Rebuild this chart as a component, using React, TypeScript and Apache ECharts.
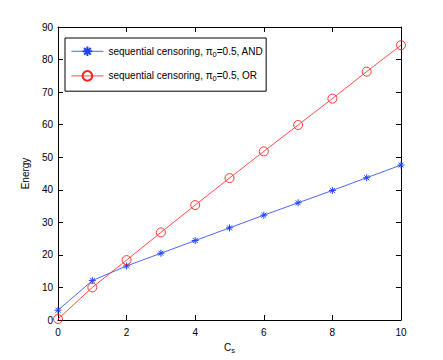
import React, { useEffect, useRef } from "react";
import * as echarts from "echarts";

const cs = [0, 1, 2, 3, 4, 5, 6, 7, 8, 9, 10];
const andEnergy = [3.0, 12.1, 16.6, 20.5, 24.4, 28.3, 32.2, 36.0, 39.8, 43.7, 47.6];
const orEnergy = [0.3, 10.0, 18.4, 26.9, 35.3, 43.6, 51.8, 59.9, 68.0, 76.3, 84.4];
const seriesNames = ["AND", "OR"];

const FONT = "'Liberation Sans', Arial, Helvetica, sans-serif";
const ASTERISK = "path://M0,5L10,5M5,0L5,10M1.5,1.5L8.5,8.5M8.5,1.5L1.5,8.5";
const CIRCLE = "path://M10,5A5,5,0,1,1,0,5A5,5,0,1,1,10,5Z";
const BLUE = "#2040ff";
const RED = "#ff2020";

export default function App() {
  const ref = useRef<HTMLDivElement>(null);
  useEffect(() => {
    const chart = echarts.init(ref.current!, undefined, { renderer: "svg" });
    const tickStyle = { show: true, inside: true, length: 5, lineStyle: { color: "#000", width: 1 } };
    const axisLine = { show: true, onZero: false, lineStyle: { color: "#000", width: 1 } };
    const rich = {
      a: { fontSize: 10, fontFamily: FONT, color: "#000" },
      sub: { fontSize: 7.5, fontFamily: FONT, color: "#000", padding: [6, 0, 0, 0] },
    };
    chart.setOption({
      animation: false,
      backgroundColor: "#fff",
      textStyle: { fontFamily: FONT },
      grid: { left: 58, right: 42, top: 27, bottom: 40, containLabel: false },
      legend: {
        left: 65,
        top: 38,
        orient: "vertical",
        data: seriesNames,
        backgroundColor: "#fff",
        borderColor: "#000",
        borderWidth: 1,
        borderRadius: 0,
        padding: [6, 3, 8, 6],
        itemWidth: 32,
        itemHeight: 12,
        itemGap: 10,
        lineStyle: { width: 0.8 },
        textStyle: { color: "#000", fontSize: 10, fontFamily: FONT, rich },
        formatter: (n: string) => `{a|sequential censoring, π}{sub|0}{a|=0.5, ${n}}`,
      },
      xAxis: [
        {
          type: "value",
          min: 0,
          max: 10,
          interval: 2,
          position: "bottom",
          axisLine,
          axisTick: tickStyle,
          splitLine: { show: false },
          axisLabel: { color: "#000", fontSize: 10, margin: 7, fontFamily: FONT },
          name: "{a|C}{sub|s}",
          nameLocation: "middle",
          nameGap: 20,
          nameTextStyle: { rich },
        },
        {
          type: "value",
          min: 0,
          max: 10,
          interval: 2,
          position: "top",
          axisLine,
          axisTick: tickStyle,
          splitLine: { show: false },
          axisLabel: { show: false },
        },
      ],
      yAxis: [
        {
          type: "value",
          min: 0,
          max: 90,
          interval: 10,
          position: "left",
          axisLine,
          axisTick: tickStyle,
          splitLine: { show: false },
          axisLabel: { color: "#000", fontSize: 10, margin: 5, fontFamily: FONT },
          name: "Energy",
          nameLocation: "middle",
          nameGap: 21,
          nameTextStyle: { color: "#000", fontSize: 10, fontFamily: FONT },
        },
        {
          type: "value",
          min: 0,
          max: 90,
          interval: 10,
          position: "right",
          axisLine,
          axisTick: tickStyle,
          splitLine: { show: false },
          axisLabel: { show: false },
        },
      ],
      series: [
        {
          name: seriesNames[0],
          type: "line",
          xAxisIndex: 0,
          yAxisIndex: 0,
          data: cs.map((c, i) => [c, andEnergy[i]]),
          symbol: ASTERISK,
          symbolSize: 7,
          lineStyle: { color: BLUE, width: 0.8 },
          itemStyle: { color: "none", borderColor: BLUE, borderWidth: 1 },
        },
        {
          name: seriesNames[1],
          type: "line",
          xAxisIndex: 0,
          yAxisIndex: 0,
          data: cs.map((c, i) => [c, orEnergy[i]]),
          symbol: CIRCLE,
          symbolSize: 9,
          lineStyle: { color: RED, width: 0.8 },
          itemStyle: { color: "none", borderColor: RED, borderWidth: 0.9 },
        },
      ],
    });
    return () => chart.dispose();
  }, []);
  return <div ref={ref} style={{ width: 443, height: 360, position: "absolute", left: 0, top: 0 }} />;
}
